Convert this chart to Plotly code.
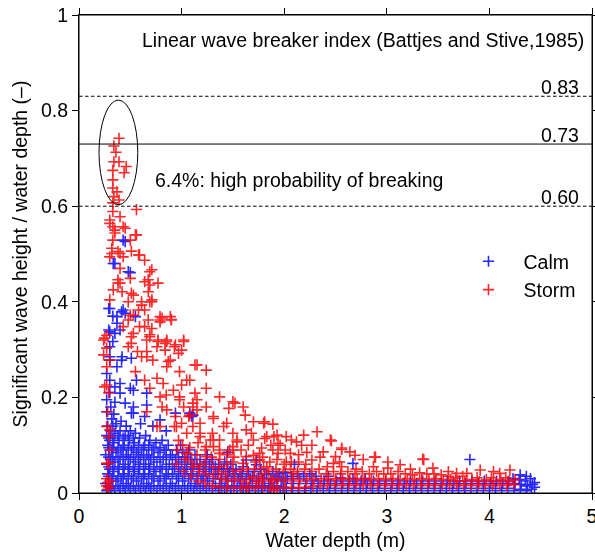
import plotly.graph_objects as go

# ---------------- data ----------------
x_ticks = [0, 1, 2, 3, 4, 5]
y_ticks = [0, 0.2, 0.4, 0.6, 0.8, 1]
y_tick_labels = ["0", "0.2", "0.4", "0.6", "0.8", "1"]

breaker_levels = [0.83, 0.73, 0.60]
breaker_labels = ["0.83", "0.73", "0.60"]
breaker_dash = ["3.5px,2.5px", "solid", "3.5px,2.5px"]

# (water depth [m], Hs / depth [-]) for calm conditions
calm_obs = [
    (0.45,0.526),(0.43,0.529),(0.35,0.48),(0.334,0.48),(0.48,0.463),(0.50,0.461),(0.30,0.386),(0.29,0.386),
    (0.415,0.379),(0.43,0.383),(0.37,0.369),(0.33,0.37),(0.55,0.369),(0.45,0.376),(0.37,0.355),(0.29,0.341),
    (0.40,0.341),(0.30,0.337),(0.35,0.334),(0.33,0.317),(0.30,0.306),(0.42,0.285),(0.30,0.285),(0.51,0.282),
    (0.415,0.278),(0.30,0.278),(0.37,0.264),(0.27,0.25),(0.30,0.236),(0.56,0.236),(0.40,0.229),(0.35,0.222),
    (0.50,0.219),(0.53,0.215),(0.40,0.209),(0.66,0.209),(0.27,0.195),(0.45,0.188),(0.66,0.184),(0.53,0.18),
    (0.53,0.167),(0.51,0.167),(0.64,0.16),(0.79,0.153),(0.94,0.167),(1.08,0.167),(1.10,0.16),(1.11,0.163),
    (0.60,0.145),(0.72,0.14),(0.85,0.13),(1.63,0.069),(1.73,0.069),(1.73,0.059),(2.67,0.062),(3.81,0.07),
    (2.10,0.06),(1.45,0.085),
    (0.27,0.005),(0.26,0.02),(0.28,0.04),(0.27,0.06),(0.26,0.08),(0.28,0.10),(0.27,0.12),(0.28,0.14),(0.27,0.17),
    (0.31,0.01),(0.32,0.03),(0.30,0.05),(0.31,0.07),(0.32,0.09),(0.30,0.11),(0.31,0.13),(0.32,0.155),(0.31,0.18),(0.30,0.21),
    (0.35,0.005),(0.36,0.025),(0.34,0.045),(0.35,0.065),(0.36,0.085),(0.34,0.105),(0.35,0.125),(0.36,0.145),(0.34,0.165),(0.35,0.19),
    (0.40,0.01),(0.41,0.03),(0.39,0.05),(0.40,0.07),(0.41,0.09),(0.39,0.11),(0.40,0.13),(0.41,0.15),
    (0.45,0.005),(0.46,0.02),(0.44,0.04),(0.45,0.06),(0.46,0.08),(0.44,0.10),(0.45,0.12),(0.46,0.14),
    (0.50,0.01),(0.51,0.03),(0.49,0.05),(0.50,0.07),(0.51,0.09),(0.49,0.11),(0.50,0.13),
    (0.55,0.005),(0.56,0.025),(0.54,0.045),(0.55,0.065),(0.56,0.085),(0.54,0.105),(0.55,0.125),
    (0.60,0.01),(0.61,0.03),(0.59,0.05),(0.60,0.07),(0.61,0.09),(0.59,0.115),
    (0.65,0.005),(0.66,0.02),(0.64,0.04),(0.65,0.06),(0.66,0.08),(0.64,0.10),(0.65,0.12),
    (0.70,0.01),(0.71,0.03),(0.69,0.05),(0.70,0.07),(0.71,0.09),(0.69,0.11),
    (0.76,0.005),(0.77,0.025),(0.75,0.045),(0.76,0.065),(0.77,0.085),(0.75,0.105),
    (0.82,0.01),(0.83,0.03),(0.81,0.05),(0.82,0.07),(0.83,0.09),(0.81,0.11),
    (0.88,0.005),(0.89,0.02),(0.87,0.04),(0.88,0.06),(0.89,0.08),(0.87,0.10),
    (0.94,0.01),(0.95,0.03),(0.93,0.05),(0.94,0.07),(0.95,0.09),
    (1.00,0.005),(1.01,0.025),(0.99,0.045),(1.00,0.065),(1.01,0.085),(0.99,0.10),
    (1.06,0.01),(1.07,0.03),(1.05,0.05),(1.06,0.07),(1.07,0.09),
    (1.12,0.005),(1.13,0.02),(1.11,0.04),(1.12,0.06),(1.13,0.08),
    (1.18,0.01),(1.19,0.03),(1.17,0.05),(1.18,0.07),
    (1.24,0.005),(1.25,0.025),(1.23,0.045),(1.24,0.065),(1.25,0.08),
    (1.30,0.01),(1.31,0.03),(1.29,0.05),(1.30,0.07),
    (1.36,0.005),(1.37,0.02),(1.35,0.04),(1.36,0.06),
    (1.42,0.01),(1.43,0.03),(1.41,0.05),(1.42,0.065),
    (1.48,0.005),(1.49,0.025),(1.47,0.045),(1.48,0.06),
    (1.54,0.01),(1.55,0.03),(1.53,0.05),
    (1.60,0.005),(1.61,0.02),(1.59,0.04),(1.60,0.055),
    (1.66,0.01),(1.67,0.03),(1.65,0.045),
    (1.72,0.005),(1.73,0.025),(1.71,0.045),
    (1.78,0.01),(1.79,0.03),(1.77,0.05),
    (1.84,0.005),(1.85,0.02),(1.83,0.04),
    (1.90,0.01),(1.91,0.03),(1.89,0.045),
    (1.96,0.005),(1.97,0.025),(1.95,0.04),
    (2.02,0.01),(2.03,0.03),(2.01,0.042),
    (2.08,0.005),(2.09,0.02),(2.07,0.035),
    (2.14,0.01),(2.15,0.03),(2.13,0.04),
    (2.20,0.005),(2.21,0.02),(2.19,0.035),
    (2.26,0.01),(2.27,0.025),(2.25,0.04),
    (2.32,0.005),(2.33,0.02),(2.31,0.035),
    (2.38,0.01),(2.39,0.025),
    (2.44,0.005),(2.45,0.02),(2.43,0.035),
    (2.50,0.01),(2.51,0.025),
    (2.56,0.005),(2.57,0.02),(2.55,0.032),
    (2.62,0.01),(2.63,0.025),
    (2.68,0.005),(2.69,0.02),(2.67,0.03),
    (2.74,0.01),(2.75,0.025),
    (2.80,0.005),(2.81,0.02),(2.79,0.03),
    (2.86,0.01),(2.87,0.025),
    (2.92,0.005),(2.93,0.02),
    (2.98,0.01),(2.99,0.025),
    (3.04,0.005),(3.05,0.02),
    (3.10,0.01),(3.11,0.025),
    (3.16,0.005),(3.17,0.02),
    (3.22,0.01),(3.23,0.025),
    (3.28,0.005),(3.29,0.02),
    (3.34,0.01),(3.35,0.025),
    (3.40,0.005),(3.41,0.02),
    (3.46,0.01),(3.47,0.025),
    (3.52,0.005),(3.53,0.02),
    (3.58,0.01),(3.59,0.025),
    (3.64,0.005),(3.65,0.02),
    (3.70,0.01),(3.71,0.025),
    (3.76,0.005),(3.77,0.02),
    (3.82,0.01),(3.83,0.025),
    (3.88,0.005),(3.89,0.02),
    (3.94,0.01),(3.95,0.025),
    (4.00,0.005),(4.01,0.02),
    (4.06,0.01),(4.07,0.025),
    (4.12,0.005),(4.13,0.02),
    (4.18,0.01),(4.19,0.025),
    (4.24,0.005),(4.25,0.02),(4.23,0.03),
    (4.30,0.008),(4.31,0.018),(4.29,0.028),(4.30,0.038),
    (4.36,0.005),(4.37,0.015),(4.35,0.025),(4.36,0.035),
    (4.41,0.008),(4.42,0.018),(4.40,0.03),
    (4.44,0.012),(4.44,0.022),
    (0.29,0.015),(0.29,0.035),(0.29,0.055),(0.29,0.075),(0.29,0.095),(0.29,0.115),
    (0.33,0.015),(0.33,0.035),(0.33,0.055),(0.33,0.075),(0.33,0.095),(0.33,0.115),(0.33,0.14),
    (0.38,0.015),(0.38,0.035),(0.38,0.055),(0.38,0.075),(0.38,0.095),(0.38,0.12),
    (0.43,0.015),(0.43,0.035),(0.43,0.055),(0.43,0.075),(0.43,0.095),(0.43,0.115),
    (0.48,0.015),(0.48,0.035),(0.48,0.055),(0.48,0.075),(0.48,0.095),(0.48,0.12),
    (0.53,0.015),(0.53,0.035),(0.53,0.055),(0.53,0.075),(0.53,0.095),(0.53,0.115),
    (0.58,0.015),(0.58,0.04),(0.58,0.06),(0.58,0.08),(0.58,0.10),
    (0.63,0.015),(0.63,0.035),(0.63,0.055),(0.63,0.075),(0.63,0.095),
    (0.68,0.015),(0.68,0.04),(0.68,0.06),(0.68,0.08),(0.68,0.10),
    (0.73,0.015),(0.73,0.035),(0.73,0.055),(0.73,0.075),(0.73,0.095),
    (0.79,0.015),(0.79,0.035),(0.79,0.055),(0.79,0.075),(0.79,0.095),
    (0.85,0.015),(0.85,0.035),(0.85,0.055),(0.85,0.075),(0.85,0.09),
    (0.91,0.015),(0.91,0.04),(0.91,0.06),(0.91,0.08),
    (0.97,0.015),(0.97,0.035),(0.97,0.055),(0.97,0.075),
    (1.03,0.015),(1.03,0.04),(1.03,0.06),(1.03,0.075),
    (1.09,0.015),(1.09,0.035),(1.09,0.055),(1.09,0.07),
    (1.15,0.015),(1.15,0.035),(1.15,0.06),
    (1.21,0.015),(1.21,0.035),(1.21,0.055),
    (1.27,0.015),(1.27,0.04),(1.27,0.06),
    (1.33,0.015),(1.33,0.04),(1.33,0.055),
    (1.39,0.012),(1.39,0.03),(1.39,0.05),
    (1.45,0.015),(1.45,0.035),(1.45,0.05),
    (1.51,0.015),(1.51,0.04),
    (1.57,0.015),(1.57,0.035),
    (1.63,0.012),(1.63,0.03),
    (1.69,0.015),(1.69,0.035),
    (1.75,0.012),(1.75,0.035),
    (1.81,0.015),(1.81,0.04),
    (1.87,0.012),(1.87,0.03),
    (1.93,0.015),(1.93,0.035),
    (1.99,0.012),(1.99,0.03),
]

# (water depth [m], Hs / depth [-]) for storm conditions
storm_obs = [
    (0.39,0.742),(0.34,0.726),(0.36,0.713),(0.34,0.693),(0.39,0.693),(0.46,0.683),(0.44,0.67),(0.33,0.675),
    (0.33,0.655),(0.33,0.638),(0.37,0.63),(0.34,0.62),(0.39,0.613),(0.33,0.607),(0.56,0.593),(0.33,0.589),
    (0.40,0.578),(0.30,0.571),(0.33,0.557),(0.45,0.554),(0.35,0.544),(0.56,0.54),(0.50,0.529),(0.33,0.529),
    (0.32,0.512),(0.38,0.505),(0.51,0.506),(0.59,0.498),(0.64,0.487),(0.30,0.494),(0.43,0.494),(0.40,0.47),
    (0.69,0.463),(0.50,0.449),(0.675,0.446),(0.77,0.439),(0.38,0.439),(0.334,0.425),(0.42,0.421),(0.53,0.414),
    (0.675,0.421),(0.61,0.40),(0.71,0.40),(0.50,0.372),(0.79,0.369),(0.89,0.369),(0.58,0.383),
    (0.30,0.564),(0.35,0.55),(0.43,0.557),(0.55,0.54),(0.32,0.501),(0.40,0.501),(0.58,0.498),(0.71,0.467),
    (0.38,0.446),(0.64,0.442),(0.51,0.418),(0.30,0.404),(0.48,0.40),(0.64,0.383),(0.81,0.366),(0.90,0.363),
    (0.48,0.362),(0.64,0.348),(0.25,0.324),(0.51,0.327),(0.69,0.331),(0.77,0.32),(0.855,0.32),(1.02,0.32),
    (0.27,0.303),(0.48,0.306),(0.66,0.296),(0.84,0.299),(0.94,0.31),(0.61,0.285),(0.87,0.275),(1.13,0.268),
    (0.61,0.393),(0.69,0.40),(0.53,0.372),(0.675,0.362),(0.79,0.358),(0.90,0.362),(0.59,0.348),(0.71,0.344),
    (0.43,0.348),(0.53,0.334),(0.51,0.313),(0.69,0.327),(0.77,0.317),(0.84,0.313),(0.97,0.292),(0.89,0.278),
    (0.66,0.285),(0.57,0.296),(0.30,0.278),(1.15,0.268),(1.24,0.257),(0.55,0.254),(0.64,0.236),(0.76,0.24),
    (1.08,0.236),(1.00,0.226),(1.24,0.219),(0.27,0.226),(0.69,0.219),(0.85,0.205),(0.98,0.201),(1.15,0.195),
    (1.37,0.201),(1.50,0.191),(1.60,0.18),(0.81,0.18),(0.94,0.16),(1.08,0.163),(1.31,0.156),(1.44,0.146),
    (1.70,0.149),(1.80,0.146),(1.90,0.118),(1.68,0.125),(1.54,0.111),(1.37,0.111),(1.18,0.125),(0.95,0.139),
    (0.76,0.139),(1.24,0.097),(1.47,0.09),(1.63,0.076),(1.76,0.069),(1.83,0.055),(1.90,0.006),(1.76,0.024),
    (0.27,0.062),(0.30,0.132),(0.29,0.21),
    (0.27,0.015),(0.28,0.022),(0.29,0.012),(0.30,0.025),(0.27,0.03),(0.28,0.008),(0.24,0.289),(0.27,0.264),
    (0.25,0.222),(0.27,0.139),(0.29,0.118),(0.29,0.062),(0.24,0.32),(0.27,0.33),(0.28,0.17),(0.30,0.09),
    (0.69,0.435),(0.40,0.439),(0.71,0.404),(0.79,0.362),(1.02,0.317),(0.855,0.317),(0.66,0.32),(0.76,0.306),
    (0.93,0.306),(1.00,0.299),(0.72,0.278),(0.855,0.264),(0.98,0.254),(1.05,0.236),(0.82,0.229),(0.92,0.215),
    (1.13,0.209),(0.79,0.201),(0.98,0.195),(1.11,0.18),(0.855,0.174),(0.66,0.17),(1.24,0.18),(1.31,0.16),
    (1.18,0.146),(1.00,0.146),(0.79,0.139),(1.41,0.139),(1.50,0.125),(1.63,0.132),(1.70,0.111),(1.83,0.118),
    (1.94,0.104),(2.06,0.083),(1.89,0.09),(1.76,0.083),(1.50,0.097),(1.31,0.111),(1.18,0.118),(1.05,0.125),
    (0.93,0.139),(1.24,0.076),(1.37,0.09),(1.05,0.083),(1.11,0.055),(1.31,0.055),(1.50,0.048),(1.70,0.034),
    (1.89,0.027),(2.09,0.041),(1.63,0.013),(2.02,0.118),(2.12,0.107),
    (1.52,0.188),(1.46,0.177),(1.62,0.163),(1.89,0.144),(1.93,0.121),(2.19,0.121),(2.32,0.128),(2.45,0.111),
    (2.07,0.111),(1.81,0.114),(1.54,0.107),(2.27,0.10),(2.17,0.10),(1.96,0.10),(1.78,0.094),(2.38,0.086),
    (1.94,0.083),(1.70,0.079),(1.37,0.083),(1.28,0.111),(1.11,0.139),(1.07,0.16),(1.15,0.174),(1.11,0.188),
    (1.02,0.18),(1.31,0.097),(1.50,0.09),(2.02,0.065),(2.14,0.065),(2.27,0.069),(2.48,0.062),(1.60,0.062),
    (1.80,0.055),(1.37,0.055),(1.18,0.059),(1.05,0.083),
    (2.46,0.109),(2.56,0.091),(2.64,0.086),(2.69,0.079),(2.50,0.076),(2.77,0.07),(2.88,0.075),(3.01,0.065),
    (3.13,0.059),(3.36,0.07),(3.45,0.052),(3.91,0.048),(4.04,0.045),(4.20,0.048),(2.54,0.065),(2.87,0.055),
    (3.01,0.052),(3.23,0.05),(3.60,0.045),(3.68,0.041),(3.78,0.041),(4.10,0.041),
    (1.81,0.149),(2.56,0.094),(2.89,0.075),(3.35,0.071),
    (0.95,0.06),(0.96,0.09),(0.97,0.11),
    (1.02,0.045),(1.03,0.07),(1.01,0.10),
    (1.09,0.035),(1.10,0.065),(1.08,0.095),
    (1.16,0.025),(1.17,0.045),(1.15,0.08),(1.16,0.105),
    (1.23,0.02),(1.24,0.04),(1.22,0.06),(1.23,0.09),
    (1.30,0.015),(1.31,0.035),(1.29,0.075),(1.30,0.125),
    (1.37,0.012),(1.38,0.03),(1.36,0.045),(1.37,0.07),
    (1.44,0.01),(1.45,0.025),(1.43,0.04),(1.44,0.06),(1.44,0.08),
    (1.51,0.012),(1.52,0.03),(1.50,0.065),(1.51,0.075),
    (1.58,0.01),(1.59,0.025),(1.57,0.045),(1.58,0.09),
    (1.65,0.012),(1.66,0.03),(1.64,0.05),(1.65,0.10),
    (1.72,0.01),(1.73,0.02),(1.71,0.05),(1.72,0.065),
    (1.79,0.012),(1.80,0.03),(1.78,0.04),(1.79,0.075),
    (1.86,0.01),(1.87,0.025),(1.85,0.045),(1.86,0.065),(1.87,0.10),
    (1.93,0.012),(1.94,0.03),(1.92,0.05),(1.93,0.07),
    (2.00,0.01),(2.01,0.025),(1.99,0.045),(2.00,0.06),(2.01,0.09),
    (2.07,0.012),(2.08,0.03),(2.06,0.05),(2.07,0.065),
    (2.14,0.01),(2.15,0.025),(2.13,0.045),(2.14,0.08),
    (2.21,0.012),(2.22,0.03),(2.20,0.05),(2.21,0.06),(2.22,0.085),
    (2.28,0.014),(2.29,0.028),(2.27,0.045),
    (2.35,0.015),(2.36,0.03),(2.34,0.05),(2.35,0.075),
    (2.42,0.016),(2.43,0.028),(2.41,0.04),(2.42,0.055),
    (2.49,0.016),(2.50,0.03),(2.48,0.045),
    (2.56,0.016),(2.57,0.028),(2.55,0.04),(2.56,0.055),
    (2.63,0.016),(2.64,0.03),(2.62,0.045),
    (2.70,0.016),(2.71,0.028),(2.69,0.04),(2.70,0.05),
    (2.77,0.016),(2.78,0.03),(2.76,0.045),
    (2.84,0.016),(2.85,0.028),(2.83,0.04),
    (2.91,0.016),(2.92,0.03),(2.90,0.045),
    (2.98,0.016),(2.99,0.028),(2.97,0.04),
    (3.05,0.016),(3.06,0.03),(3.04,0.04),
    (3.12,0.016),(3.13,0.028),(3.11,0.045),
    (3.19,0.016),(3.20,0.03),(3.18,0.04),
    (3.26,0.016),(3.27,0.028),(3.25,0.038),
    (3.33,0.016),(3.34,0.03),(3.32,0.042),
    (3.40,0.016),(3.41,0.028),(3.39,0.04),
    (3.47,0.016),(3.48,0.03),(3.46,0.04),
    (3.54,0.016),(3.55,0.028),(3.53,0.038),
    (3.61,0.016),(3.62,0.028),(3.60,0.035),
    (3.68,0.016),(3.69,0.025),(3.67,0.032),
    (3.75,0.016),(3.76,0.025),(3.74,0.035),
    (3.82,0.016),(3.83,0.028),
    (3.89,0.016),(3.90,0.024),(3.88,0.032),
    (3.96,0.016),(3.97,0.028),
    (4.03,0.016),(4.04,0.024),(4.02,0.032),
    (4.10,0.016),(4.11,0.028),
    (4.17,0.016),(4.18,0.024),(4.16,0.032),
    (4.24,0.018),(4.25,0.028),
]

calm_depth = [p[0] for p in calm_obs]
calm_ratio = [p[1] for p in calm_obs]
storm_depth = [p[0] for p in storm_obs]
storm_ratio = [p[1] for p in storm_obs]

# ---------------- figure ----------------
FONT = "Liberation Sans, Arial, Helvetica, sans-serif"
FS = 19.5

fig = go.Figure()

fig.add_trace(go.Scatter(
    x=calm_depth, y=calm_ratio, mode="markers", name="Calm",
    marker=dict(symbol="cross-thin", size=8, color="rgb(0,0,255)",
                line=dict(color="rgb(0,0,255)", width=1.6)),
    opacity=0.85,
))
fig.add_trace(go.Scatter(
    x=storm_depth, y=storm_ratio, mode="markers", name="Storm",
    marker=dict(symbol="cross-thin", size=8, color="rgb(255,0,0)",
                line=dict(color="rgb(255,0,0)", width=1.6)),
    opacity=0.85,
))

shapes = []
for lvl, dash in zip(breaker_levels, breaker_dash):
    shapes.append(dict(type="line", xref="paper", yref="y", x0=0, x1=1, y0=lvl, y1=lvl,
                       line=dict(color="black", width=1, dash=dash), layer="above"))
shapes.append(dict(type="circle", xref="x", yref="y", x0=0.195, x1=0.573, y0=0.603, y1=0.822,
                   line=dict(color="black", width=1)))
# frame of the plotting box
shapes.append(dict(type="rect", xref="paper", yref="paper", x0=0, x1=1, y0=0, y1=1,
                   line=dict(color="black", width=1), layer="above"))

annotations = []
for lvl, lab in zip(breaker_levels, breaker_labels):
    annotations.append(dict(x=4.89, y=lvl, xref="x", yref="y", text=lab, showarrow=False,
                            xanchor="right", yanchor="bottom", yshift=-4,
                            font=dict(family=FONT, size=FS, color="black")))
annotations.append(dict(x=0.595, y=0.948, xref="x", yref="y",
                        text="Linear wave breaker index (Battjes and Stive,1985)",
                        showarrow=False, xanchor="left", yanchor="middle",
                        font=dict(family=FONT, size=FS, color="black")))
annotations.append(dict(x=0.72, y=0.655, xref="x", yref="y",
                        text="6.4%: high probability of breaking",
                        showarrow=False, xanchor="left", yanchor="middle",
                        font=dict(family=FONT, size=FS, color="black")))

axis_common = dict(showline=True, linecolor="black", linewidth=1, mirror="allticks",
                   ticks="outside", ticklen=6, tickwidth=1, tickcolor="black",
                   showgrid=False, zeroline=False, ticklabeloverflow="allow",
                   tickfont=dict(family=FONT, size=FS, color="black"))

fig.update_layout(
    width=595, height=554,
    margin=dict(l=79, r=3, t=15, b=61, autoexpand=False),
    paper_bgcolor="white", plot_bgcolor="white",
    font=dict(family=FONT, size=FS, color="black"),
    xaxis=dict(range=[0, 5], tickvals=x_ticks,
               title=dict(text="Water depth (m)", font=dict(family=FONT, size=FS), standoff=6),
               **axis_common),
    yaxis=dict(range=[0, 1], tickvals=y_ticks, ticktext=y_tick_labels,
               title=dict(text="Significant wave height / water depth (\u2013)",
                          font=dict(family=FONT, size=FS), standoff=8),
               **axis_common),
    showlegend=True,
    legend=dict(x=0.73, y=0.525, xanchor="left", yanchor="top", bgcolor="rgba(0,0,0,0)",
                borderwidth=0, itemwidth=60, font=dict(family=FONT, size=FS),
                tracegroupgap=0),
    shapes=shapes, annotations=annotations,
)

# remove the browser's default page margin so the 595x554 figure fills the window exactly
fig.write_html(
    "out.html",
    config={"displayModeBar": False},
    post_script="document.body.style.margin='0';document.body.style.overflow='hidden';",
)
